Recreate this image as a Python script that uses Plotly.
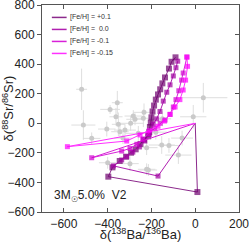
import plotly.graph_objects as go

# ---- data ----
gray_x = [-519, -511, -356, -389, -362, -351, -404, -473, -295, -321, -344, -275, -283, -234, 37, -9,
          -153, -77, -214, -260, -237, -400, -298, -222, -222, -180, -150, -330, -120, -60]
gray_y = [230, -12, 139, 94, 44, -7, -39, -102, 0, -46, -57, 27, 49, 74, 173, 44,
          -147, -215, -316, -68, 34, -267, -273, -311, -165, -60, 30, -100, -150, -100]
gray_xerr = [25, 55, 25, 45, 30, 30, 40, 40, 60, 50, 40, 40, 40, 50, 110, 60,
             60, 60, 40, 60, 50, 40, 40, 40, 50, 50, 40, 40, 50, 50]
gray_yerr = [140, 100, 80, 30, 60, 80, 50, 40, 50, 40, 40, 40, 40, 60, 100, 80,
             60, 60, 40, 50, 60, 40, 50, 40, 50, 50, 50, 40, 50, 50]

p01_x = [0, 10, -397, -378, -345, -316, -293, -272, -250, -234, -215, -210, -207, -203, -200, -195,
         -188, -180, -170, -160, -150, -138, -120, -108, -90]
p01_y = [0, -465, -361, -298, -255, -226, -199, -176, -140, -110, -88, -60, -25, 5, 40, 80,
         120, 160, 195, 230, 270, 310, 370, 416, 446]
p00_x = [0, -170, -374, -336, -313, -285, -255, -230, -210, -192, -176, -161, -146, -130, -115, -100, -88, -80]
p00_y = [0, -357, -288, -248, -226, -195, -160, -120, -75, -5, 30, 80, 150, 210, 260, 320, 376, 420]
m01_x = [0, -473, -336, -298, -267, -240, -215, -185, -160, -138, -115, -100, -88, -75, -62, -55, -38]
m01_y = [0, -233, -188, -170, -142, -110, -70, -35, 0, 22, 60, 110, 160, 220, 292, 340, 448]
m015_x = [0, -584, -313, -252, -210, -170, -140, -115, -92, -70, -55, -44, -35, -38]
m015_y = [0, -158, -120, -79, -50, -20, 15, 60, 110, 160, 225, 292, 385, 448]

series_labels = ["[Fe/H] = +0.1", "[Fe/H] =  0.0", "[Fe/H] = -0.1", "[Fe/H] = -0.15"]
line_colors = ["#8C2A8C", "#B020B0", "#D820D8", "#FF30FF"]
marker_colors = ["#6E006E", "#A000A0", "#D000D0", "#FF00FF"]

x_ticks = [-600, -400, -200, 0, 200]
y_ticks = [-600, -400, -200, 0, 200, 400, 600, 800]

fig = go.Figure()

fig.add_trace(go.Scatter(
    x=gray_x, y=gray_y, mode="markers",
    marker=dict(symbol="circle", size=5, color="#CACACA"),
    error_x=dict(type="data", array=gray_xerr, color="#DEDEDE", thickness=1, width=0),
    error_y=dict(type="data", array=gray_yerr, color="#DEDEDE", thickness=1, width=0),
    showlegend=False, hoverinfo="skip"))

series = [(p01_x, p01_y), (p00_x, p00_y), (m01_x, m01_y), (m015_x, m015_y)]
for i, (sx, sy) in enumerate(series):
    sizes = [0] + [6 if i == 0 else 5] * (len(sx) - 1)
    fig.add_trace(go.Scatter(
        x=sx, y=sy, mode="lines+markers",
        line=dict(color=line_colors[i], width=1),
        marker=dict(symbol="square", size=sizes, color=marker_colors[i], line=dict(width=0)),
        showlegend=False))

# manual legend
for i, lab in enumerate(series_labels):
    yp = 0.94 - i * 0.058
    fig.add_shape(type="line", xref="paper", yref="paper", x0=0.05, x1=0.125, y0=yp, y1=yp,
                  line=dict(color=line_colors[i], width=1.5))
    fig.add_annotation(xref="paper", yref="paper", x=0.13, y=yp, text=lab, showarrow=False,
                       xanchor="left", yanchor="middle",
                       font=dict(family="Liberation Sans, Arial", size=7, color="#333"))

fig.add_annotation(x=-655, y=-490, text="3M<sub>☉</sub>5.0%  V2", showarrow=False,
                   xanchor="left", yanchor="middle",
                   font=dict(family="Liberation Sans, Arial", size=12, color="#222"))

axis_font = dict(family="Liberation Sans, Arial", size=12, color="#222")
fig.update_layout(
    width=249, height=242,
    margin=dict(l=42, r=10, t=5, b=30),
    paper_bgcolor="white", plot_bgcolor="white",
    font=dict(family="Liberation Sans, Arial", color="#222"),
    xaxis=dict(range=[-700, 200], tickvals=x_ticks, ticks="inside", ticklen=4,
               tickcolor="#555", showline=True, linecolor="#555", linewidth=1, mirror=True,
               showgrid=False, zeroline=False, tickfont=axis_font, automargin=False,
               ticklabelstandoff=1, ticklabeloverflow="allow",
               title=dict(text="δ(<sup>138</sup>Ba/<sup>136</sup>Ba)", font=dict(size=13), standoff=0)),
    yaxis=dict(range=[-600, 800], tickvals=y_ticks, ticks="outside", ticklen=4,
               tickcolor="#555", showline=True, linecolor="#555", linewidth=1, mirror=True,
               showgrid=False, zeroline=False, tickfont=axis_font, automargin=False,
               ticklabeloverflow="allow",
               title=dict(text="δ(<sup>88</sup>Sr/<sup>86</sup>Sr)", font=dict(size=13), standoff=0)),
    xaxis2=dict(range=[-700, 200], tickvals=x_ticks, overlaying="x", side="top", ticks="inside",
                ticklen=4, tickcolor="#555", showticklabels=False, showgrid=False, zeroline=False,
                automargin=False),
    yaxis2=dict(range=[-600, 800], tickvals=y_ticks, overlaying="y", side="right", ticks="inside",
                ticklen=4, tickcolor="#555", showticklabels=False, showgrid=False, zeroline=False,
                automargin=False),
)
fig.add_trace(go.Scatter(x=[None], y=[None], xaxis="x2", yaxis="y2", showlegend=False))

fig.write_html("out.html", config={"displayModeBar": False},
               post_script="document.body.style.margin='0';document.body.style.overflow='hidden';")
